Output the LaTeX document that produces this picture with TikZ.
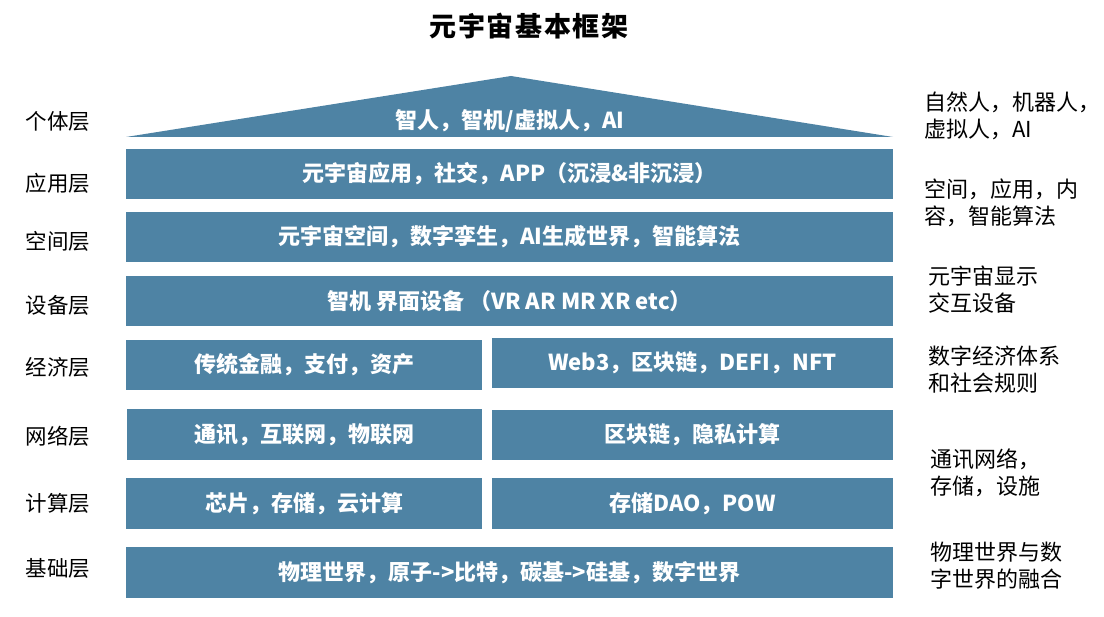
\documentclass[tikz,border=0pt]{standalone}
\usepackage{fontspec}
\setmainfont{Noto Sans CJK SC}
\newfontfamily\cjk{Noto Sans CJK SC}
\newfontfamily\cjktitle[LetterSpace=6]{Noto Sans CJK SC}
\definecolor{layerblue}{HTML}{4E83A4}
\begin{document}
\begin{tikzpicture}[x=1pt,y=-1pt,
  box/.style={fill=layerblue,draw=none,inner sep=0pt,text=white,font=\cjk\bfseries\fontsize{22}{26}\selectfont},
  lbl/.style={inner sep=0pt,font=\cjk\fontsize{21.5}{24}\selectfont},
  note/.style={inner sep=0pt,anchor=west,align=left,font=\cjk\fontsize{22}{27}\selectfont}]
\useasboundingbox (0,0) rectangle (1104,617);
\node[inner sep=0pt,font=\cjktitle\bfseries\fontsize{27}{30}\selectfont] (title) at (529,26) {元宇宙基本框架};
% roof
\fill[layerblue] (126,137) -- (511,76) -- (893,137) -- cycle;
\node[inner sep=0pt,text=white,font=\cjk\bfseries\fontsize{22}{26}\selectfont] (roof) at (510,121) {智人，智机/虚拟人，AI};
% full rows
\node[box,minimum width=767,minimum height=50] (app) at (509.5,174) {元宇宙应用，社交，APP（沉浸\&非沉浸）};
\node[box,minimum width=767,minimum height=50] (space) at (509.5,237) {元宇宙空间，数字孪生，AI生成世界，智能算法};
\node[box,minimum width=767,minimum height=50] (dev) at (509.5,301) {智机 界面设备 （VR AR MR XR etc）};
\node[box,minimum width=356,minimum height=50] (econL) at (304,365) {传统金融，支付，资产};
\node[box,minimum width=401,minimum height=50] (econR) at (692.5,363) {Web3，区块链，DEFI，NFT};
\node[box,minimum width=355,minimum height=51] (netL) at (304.5,434.5) {通讯，互联网，物联网};
\node[box,minimum width=401,minimum height=50] (netR) at (692.5,435) {区块链，隐私计算};
\node[box,minimum width=356,minimum height=51] (compL) at (304,503.5) {芯片，存储，云计算};
\node[box,minimum width=401,minimum height=51] (compR) at (692.5,503.5) {存储DAO，POW};
\node[box,minimum width=767,minimum height=51] (base) at (509.5,572.5) {物理世界，原子->比特，碳基->硅基，数字世界};
% left labels
\node[lbl] (l1) at (58,121) {个体层};
\node[lbl] (l2) at (58,183) {应用层};
\node[lbl] (l3) at (58,241) {空间层};
\node[lbl] (l4) at (58,305) {设备层};
\node[lbl] (l5) at (58,367) {经济层};
\node[lbl] (l6) at (58,436) {网络层};
\node[lbl] (l7) at (58,503) {计算层};
\node[lbl] (l8) at (58,568) {基础层};
% right notes
\node[note] (r1) at (924,116) {自然人，机器人，\\虚拟人，AI};
\node[note] (r2) at (924,203) {空间，应用，内\\容，智能算法};
\node[note] (r3) at (928,290) {元宇宙显示\\交互设备};
\node[note] (r4) at (928,370) {数字经济体系\\和社会规则};
\node[note] (r5) at (930,472.5) {通讯网络，\\存储，设施};
\node[note] (r6) at (930,566) {物理世界与数\\字世界的融合};
\end{tikzpicture}
\end{document}
